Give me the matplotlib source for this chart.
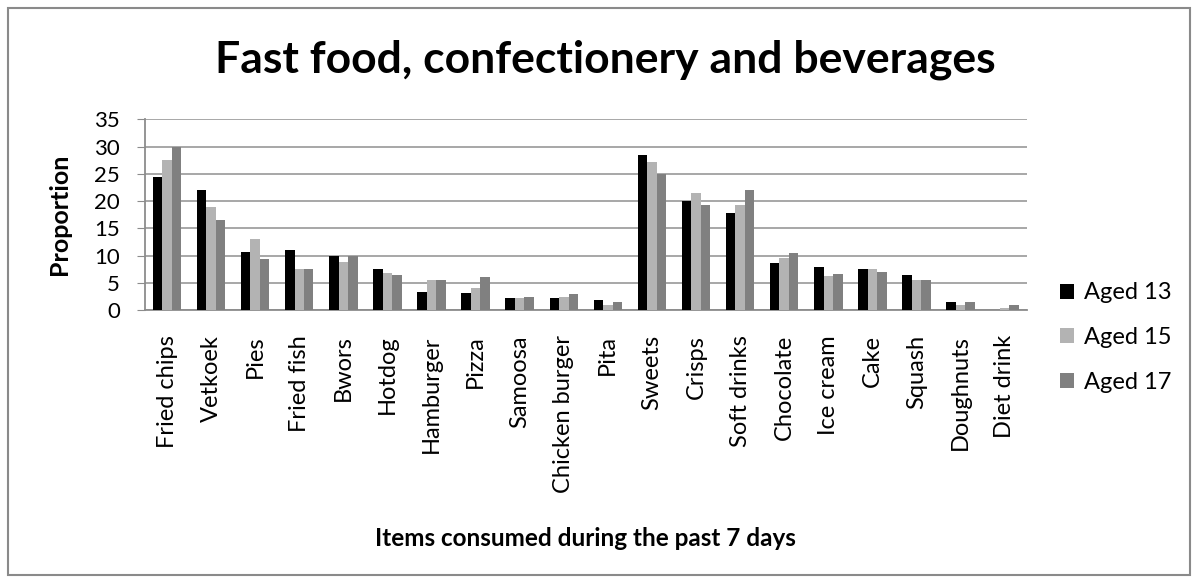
import numpy as np
import matplotlib
matplotlib.use("Agg")
from matplotlib import pyplot as plt
from matplotlib.patches import Rectangle

plt.rcParams['font.family'] = ['Lato', 'DejaVu Sans']

# Items and proportions per age group
items = ['Fried chips', 'Vetkoek', 'Pies', 'Fried fish', 'Bwors', 'Hotdog',
         'Hamburger', 'Pizza', 'Samoosa', 'Chicken burger', 'Pita', 'Sweets',
         'Crisps', 'Soft drinks', 'Chocolate', 'Ice cream', 'Cake', 'Squash',
         'Doughnuts', 'Diet drink']
aged13 = [24.5, 22.0, 10.7, 11.0, 10.0, 7.6, 3.4, 3.2, 2.3, 2.3, 1.8, 28.4,
          20.1, 17.8, 8.6, 7.9, 7.5, 6.5, 1.5, 0.0]
aged15 = [27.5, 19.0, 13.1, 7.6, 8.9, 6.9, 5.6, 4.1, 2.3, 2.5, 1.0, 27.2,
          21.5, 19.2, 9.5, 6.2, 7.6, 5.6, 1.0, 0.4]
aged17 = [30.0, 16.6, 9.4, 7.6, 9.9, 6.5, 5.6, 6.0, 2.5, 2.9, 1.5, 25.0,
          19.2, 22.0, 10.5, 6.7, 7.0, 5.6, 1.5, 1.0]
series = ['Aged 13', 'Aged 15', 'Aged 17']
colors = ['#000000', '#b3b3b3', '#808080']

fig = plt.figure(figsize=(11.98, 5.82), dpi=100)
ax = fig.add_axes([0.121, 0.467, 0.736, 0.328])

x = np.arange(len(items))
w = 0.215
for i, (vals, lab, c) in enumerate(zip([aged13, aged15, aged17], series, colors)):
    ax.bar(x + (i - 1) * w, vals, width=w, color=c, label=lab, zorder=3)

ax.set_xlim(-0.5, len(items) - 0.5)
ax.set_ylim(0, 35)
ax.set_yticks(range(0, 36, 5))
ax.yaxis.grid(True, color='#a0a0a0', linewidth=1.3, zorder=0)
ax.set_xticks(x)
ax.set_xticklabels(items, rotation=90, fontsize=17)
ax.tick_params(axis='x', length=0, pad=18)
ax.tick_params(axis='y', labelsize=16, length=6, color='#8c8c8c', pad=12)
for s in ['top', 'right']:
    ax.spines[s].set_visible(False)
for s in ['left', 'bottom']:
    ax.spines[s].set_color('#8c8c8c')
    ax.spines[s].set_linewidth(1.3)

fig.text(0.050, 0.632, 'Proportion', fontsize=18, fontweight='bold',
         rotation=90, ha='center', va='center')
fig.text(0.489, 0.075, 'Items consumed during the past 7 days', fontsize=17.5,
         fontweight='bold', ha='center', va='center')
fig.text(0.505, 0.897, 'Fast food, confectionery and beverages', fontsize=32,
         fontweight='bold', ha='center', va='center')

ax.legend(loc='center left', bbox_to_anchor=(0.885, 0.42),
          bbox_transform=fig.transFigure, frameon=False, fontsize=17,
          handlelength=0.6, handleheight=0.6, handletextpad=0.4,
          labelspacing=1.0, borderaxespad=0, borderpad=0)

fig.patches.append(Rectangle((0.007, 0.012), 0.986, 0.975, fill=False,
                             edgecolor='#8a8a8a', linewidth=1.5,
                             transform=fig.transFigure, figure=fig))

fig.savefig('out.png', dpi=100)
